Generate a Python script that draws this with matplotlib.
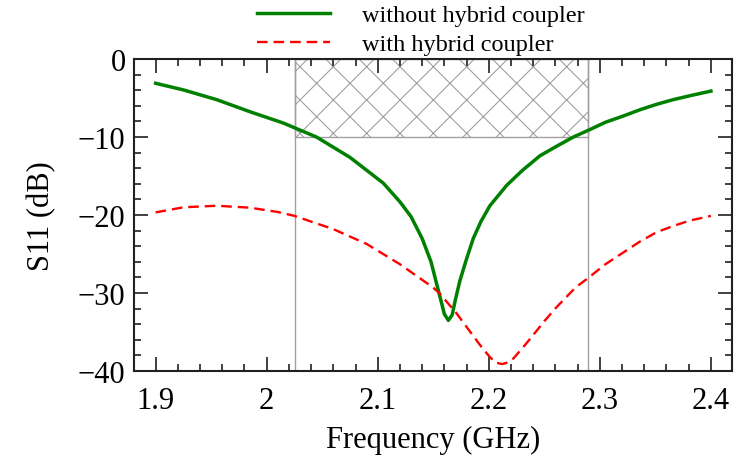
import matplotlib
matplotlib.use('Agg')
import matplotlib.pyplot as plt
from matplotlib.ticker import MultipleLocator

plt.rcParams['font.family'] = ['Liberation Serif', 'DejaVu Serif']
plt.rcParams['hatch.color'] = '#a0a0a0'
plt.rcParams['hatch.linewidth'] = 0.8

# S11
freq_no = [1.900, 1.925, 1.955, 1.985, 2.015, 2.045, 2.075, 2.105, 2.120, 2.130,
           2.140, 2.148, 2.153, 2.157, 2.160, 2.1636, 2.167, 2.170, 2.174, 2.180,
           2.186, 2.193, 2.201, 2.216, 2.230, 2.246, 2.262, 2.276, 2.290, 2.305,
           2.321, 2.336, 2.351, 2.366, 2.381, 2.400]
s11_no = [-3.1, -3.95, -5.2, -6.75, -8.2, -10.0, -12.6, -15.9, -18.3, -20.2,
          -23.0, -26.0, -28.8, -31.0, -32.7, -33.5, -32.8, -30.8, -28.4, -25.6,
          -23.0, -20.8, -18.8, -16.2, -14.3, -12.4, -11.1, -10.0, -9.1, -8.1,
          -7.3, -6.5, -5.8, -5.2, -4.7, -4.1]

freq_hc = [1.900, 1.925, 1.955, 1.985, 2.010, 2.025, 2.060, 2.090, 2.120, 2.150,
           2.156, 2.171, 2.186, 2.195, 2.201, 2.206, 2.212, 2.217, 2.222, 2.230,
           2.237, 2.250, 2.261, 2.278, 2.290, 2.305, 2.321, 2.336, 2.351, 2.366,
           2.381, 2.400]
s11_hc = [-19.65, -19.0, -18.8, -19.05, -19.6, -20.1, -21.8, -23.7, -26.3, -29.3,
          -30.1, -32.6, -35.5, -37.2, -38.2, -38.9, -39.1, -38.9, -38.4, -37.1,
          -35.9, -33.6, -31.8, -29.3, -28.0, -26.3, -24.8, -23.4, -22.2, -21.4,
          -20.7, -20.1]

band = (2.0252, 2.2897)
band_limit = -10

fig = plt.figure(figsize=(7.36, 4.56), dpi=100)
ax = fig.add_axes([0.182, 0.184, 0.8126, 0.6842])

ax.fill_between(band, band_limit, 0, facecolor='none', hatch='x',
                edgecolor='#a0a0a0', linewidth=1.0, zorder=1)
for b in band:
    ax.axvline(b, color='#a0a0a0', lw=1.0, zorder=1)

ax.plot(freq_no, s11_no, color='green', lw=2.5, label='without hybrid coupler',
        zorder=3, solid_joinstyle='round')
ax.plot(freq_hc, s11_hc, color='red', lw=1.7, dashes=(4.5, 2.5),
        label='with hybrid coupler', zorder=3)

ax.set_xlim(1.8805, 2.419)
ax.set_ylim(-40, 0)
ax.xaxis.set_minor_locator(MultipleLocator(0.02))
ax.yaxis.set_minor_locator(MultipleLocator(2))
ax.set_xticks([1.9, 2.0, 2.1, 2.2, 2.3, 2.4])
ax.set_xticklabels(['1.9', '2', '2.1', '2.2', '2.3', '2.4'])
ax.set_yticks([0, -10, -20, -30, -40])
ax.set_yticklabels(['0', '\u221210', '\u221220', '\u221230', '\u221240'])

ax.tick_params(which='both', direction='in', top=True, right=True, width=1.2,
               labelsize=22, color='#202020')
ax.tick_params(which='major', length=10)
ax.tick_params(axis='x', which='major', pad=11)
ax.tick_params(axis='y', which='major', pad=6)
ax.tick_params(which='minor', length=5)
for side in ['top', 'bottom', 'left', 'right']:
    ax.spines[side].set_linewidth(1.5)
    ax.spines[side].set_color('#202020')

ax.set_xlabel('Frequency (GHz)', fontsize=22, labelpad=7)
ax.set_ylabel('S11 (dB)', fontsize=22, labelpad=16)

ax.legend(loc='upper left', bbox_to_anchor=(257 / 736, 1 - 5 / 456),
          bbox_transform=fig.transFigure, frameon=False, fontsize=17.5,
          borderpad=0, borderaxespad=0, handlelength=3.0, handletextpad=1.3,
          labelspacing=0.3)

plt.savefig('out.png', dpi=100)
